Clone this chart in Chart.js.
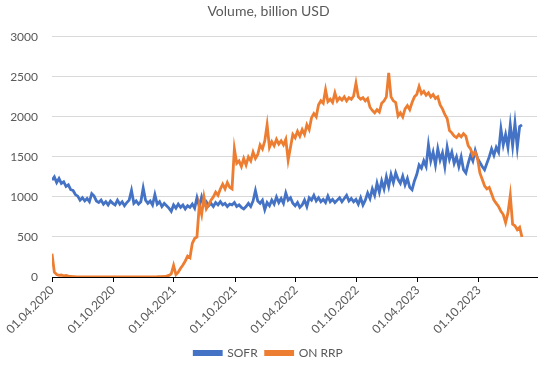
<!DOCTYPE html>
<html>
<head>
<meta charset="utf-8">
<script src="https://cdn.jsdelivr.net/npm/chart.js@4.4.0/dist/chart.umd.min.js"></script>
<style>
  html, body { margin: 0; padding: 0; background: #fff; }
  #wrap { width: 549px; height: 369px; position: relative; }
</style>
</head>
<body>
<div id="wrap"><canvas id="chart"></canvas></div>
<script>
// weekly readings, first one on 01.04.2020
const stepDays = 7;

const sofr = [
  1210, 1250, 1180, 1230, 1170, 1190, 1130, 1150, 1090, 1080,
  1030, 1010, 960, 990, 950, 980, 940, 1040, 1010, 950,
  930, 960, 910, 940, 900, 950, 920, 900, 960, 910,
  940, 890, 930, 960, 1080, 920, 950, 910, 940, 1110,
  960, 920, 950, 900, 1030, 910, 940, 880, 920, 890,
  860, 820, 900, 860, 910, 870, 900, 850, 890, 870,
  910, 860, 990, 880, 1000, 900, 940, 890, 920, 880,
  930, 900, 940, 900, 920, 880, 910, 900, 930, 880,
  900, 870, 850, 880, 920, 880, 950, 1080, 950, 920,
  960, 840, 930, 890, 960, 910, 1000, 930, 980, 920,
  1050, 960, 990, 920, 890, 930, 870, 900, 960, 880,
  990, 960, 1020, 950, 990, 940, 970, 930, 1010, 940,
  970, 930, 960, 990, 940, 980, 1020, 950, 980, 940,
  970, 910, 990, 900, 960, 1050, 980, 1100, 1020, 1170,
  1060, 1200, 1100, 1250, 1130, 1280, 1180, 1300, 1220, 1170,
  1260, 1150, 1230, 1120, 1090, 1200, 1280, 1400, 1360, 1450,
  1380, 1650, 1450, 1560, 1400, 1600, 1460, 1550, 1380, 1620,
  1470, 1560, 1420, 1500, 1380, 1500, 1340, 1300, 1420, 1520,
  1450, 1580, 1480, 1430, 1380, 1340, 1420, 1500, 1600, 1520,
  1620, 1560, 1850, 1650, 1780, 1620, 1900, 1640, 1920, 1620,
  1880, 1900
];

const onRrp = [
  290, 60, 30, 20, 25, 15, 20, 10, 8, 5,
  3, 2, 2, 1, 0, 1, 0, 0, 1, 0,
  0, 0, 0, 1, 0, 0, 0, 0, 0, 0,
  0, 0, 0, 0, 0, 0, 0, 0, 0, 0,
  0, 0, 0, 1, 2, 3, 5, 4, 6, 10,
  20, 40, 145, 30, 60, 110, 150, 200, 260, 240,
  420, 480, 500, 900, 780, 1000, 850, 900, 960, 1000,
  1060, 1020, 1100, 1160, 1100, 1180, 1120, 1100, 1600, 1420,
  1450, 1380, 1480, 1400, 1500, 1450, 1560, 1480, 1530, 1650,
  1600, 1700, 1900, 1620, 1690, 1640, 1720, 1660, 1700, 1650,
  1720, 1460, 1620, 1780, 1740, 1820, 1760, 1840, 1780, 1900,
  1840, 1990, 2040, 2000, 2150, 2200, 2170, 2340, 2190, 2220,
  2180, 2300, 2200, 2240, 2210, 2250, 2200, 2240, 2220, 2260,
  2420, 2250, 2220, 2240, 2200, 2230, 2120, 2080, 2050, 2090,
  2060, 2170, 2200, 2250, 2550, 2250, 2200, 2180, 2010, 2050,
  2000, 2100, 2140, 2090, 2180, 2250, 2280, 2380, 2290, 2320,
  2270, 2300, 2250, 2280, 2230, 2250, 2150, 2100, 2030, 1980,
  1830, 1800, 1760, 1740, 1780, 1750, 1790, 1760, 1640, 1600,
  1520, 1560, 1480, 1300, 1220, 1140, 1100, 1120, 1040, 960,
  920, 880, 820, 780, 680, 800, 1020, 660, 640, 590,
  620, 500
];

// days after 01.04.2020
const xTickDays = [0, 183, 365, 548, 730, 913, 1095, 1278];
const xTickLabels = ['01.04.2020', '01.10.2020', '01.04.2021', '01.10.2021',
                     '01.04.2022', '01.10.2022', '01.04.2023', '01.10.2023'];
const yTicks = [0, 500, 1000, 1500, 2000, 2500, 3000];

const toPoints = arr => arr.map((v, i) => ({ x: i * stepDays, y: v }));
const labelFont = { family: 'Lato', size: 12 };
const grey = '#595959';

new Chart(document.getElementById('chart'), {
  type: 'line',
  data: {
    datasets: [
      {
        label: 'SOFR',
        data: toPoints(sofr),
        borderColor: '#4472C4',
        backgroundColor: '#4472C4',
        borderWidth: 2.8,
        pointRadius: 0,
        order: 2
      },
      {
        label: 'ON RRP',
        data: toPoints(onRrp),
        borderColor: '#ED7D31',
        backgroundColor: '#ED7D31',
        borderWidth: 2.8,
        pointRadius: 0,
        order: 1
      }
    ]
  },
  options: {
    responsive: true,
    maintainAspectRatio: false,
    animation: false,
    layout: { padding: { left: 0, right: 12, top: 0, bottom: 0 } },
    plugins: {
      title: {
        display: true,
        text: 'Volume, billion USD',
        color: grey,
        font: { family: 'Lato', size: 14, weight: 'normal' },
        padding: { top: 3, bottom: 17 }
      },
      legend: {
        position: 'bottom',
        labels: {
          boxWidth: 27,
          boxHeight: 3,
          color: grey,
          font: { family: 'Lato', size: 12 },
          padding: 8,
          sort: (a, b) => a.datasetIndex - b.datasetIndex
        }
      },
      tooltip: { enabled: false }
    },
    scales: {
      x: {
        type: 'linear',
        min: 0,
        max: 1452,
        afterBuildTicks: s => { s.ticks = xTickDays.map(v => ({ value: v })); },
        afterFit: s => { s.height = 62; },
        ticks: {
          autoSkip: false,
          minRotation: 45,
          maxRotation: 45,
          color: grey,
          font: labelFont,
          padding: 1,
          callback: v => xTickLabels[xTickDays.indexOf(v)]
        },
        grid: { drawOnChartArea: false, color: '#000', tickLength: 5 },
        border: { color: '#000', width: 1 }
      },
      y: {
        min: 0,
        max: 3000,
        afterBuildTicks: s => { s.ticks = yTicks.map(v => ({ value: v })); },
        afterFit: s => { s.width = 52; },
        ticks: { color: grey, font: labelFont, padding: 14, callback: v => String(v) },
        grid: { color: '#d9d9d9', drawTicks: false },
        border: { display: false }
      }
    }
  }
});
</script>
</body>
</html>
